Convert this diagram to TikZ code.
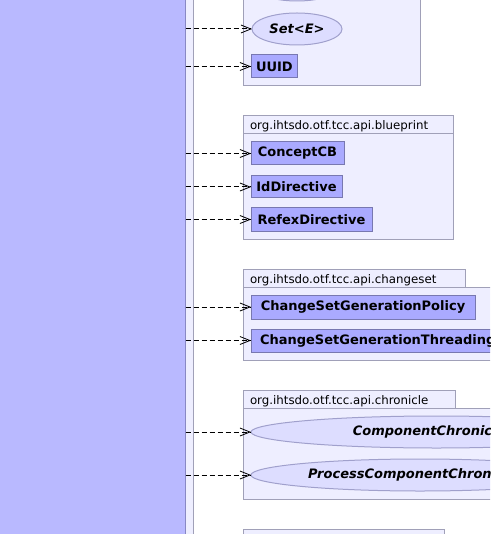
\documentclass[tikz,border=0pt]{standalone}
\usepackage{fontspec}
\setmainfont{DejaVu Sans}
\usetikzlibrary{arrows.meta,shapes.geometric}
\definecolor{colfill}{RGB}{185,185,255}
\definecolor{colline}{RGB}{136,136,196}
\definecolor{stripfill}{RGB}{238,238,255}
\definecolor{pkgfill}{RGB}{238,238,255}
\definecolor{pkgline}{RGB}{160,160,184}
\definecolor{clsfill}{RGB}{170,170,255}
\definecolor{clsline}{RGB}{120,120,176}
\definecolor{ifcfill}{RGB}{221,221,255}
\definecolor{ifcline}{RGB}{160,160,204}

\begin{document}
\begin{tikzpicture}[x=1pt,y=-1pt,
  pkg/.style={draw=pkgline,fill=pkgfill,line width=1pt},
  pkgtab/.style={pkg,anchor=north west,outer sep=0pt,minimum height=18pt,inner xsep=7pt,inner ysep=0pt,align=left,font=\fontsize{11.8}{13}\selectfont,text height=11pt,text depth=1pt},
  cls/.style={draw=clsline,fill=clsfill,line width=1pt,anchor=west,outer sep=0pt,minimum height=23pt,inner xsep=5pt,font=\bfseries\fontsize{13}{15}\selectfont},
  ifc/.style={ellipse,draw=ifcline,fill=ifcfill,line width=1pt,anchor=west,outer sep=0pt,minimum height=32pt,font=\bfseries\itshape\fontsize{13}{15}\selectfont},
  dep/.style={dash pattern=on 5pt off 3pt,line width=1pt,-{Straight Barb[length=10pt,width=8pt,line width=0.8pt]}}]
  % \draw[thin,gray!40] (0,0) grid[step=50] (490,534);
  \clip (0,0) rectangle (490,534);
  % left class, cut by the frame
  \draw[draw=pkgline,fill=stripfill,line width=1pt] (180,-20) rectangle (193,560);
  \node[draw=colline,fill=colfill,line width=1pt,anchor=north east,minimum width=200pt,minimum height=600pt,inner sep=0pt] (api) at (185.5,-20) {};
  % package above, cut by the frame
  \draw[pkg] (243,-20) rectangle (420,86);
  \node[ifc,minimum width=90pt] (topIfc) at (252,-15) {};
  \node[ifc,minimum width=90pt] (setE) at (252,29) {Set<E>};
  \node[cls,minimum width=44pt] (uuid) at (251,66.5) {UUID};
  \draw[dep] (api.east |- setE.west) -- (setE.west);
  \draw[dep] (api.east |- uuid.west) -- (uuid.west);
  % blueprint
  \draw[pkg] (243,134) rectangle (453,239);
  \node[pkgtab,text width=196pt] (bpTab) at (243,116) {org.ihtsdo.otf.tcc.api.blueprint};
  \node[cls,minimum width=93pt] (conceptCB) at (251,153.5) {ConceptCB};
  \node[cls,minimum width=91pt,minimum height=22pt] (idDir) at (251,187) {IdDirective};
  \node[cls,minimum width=121pt] (refexDir) at (251,219.5) {RefexDirective};
  \draw[dep] (api.east |- conceptCB.west) -- (conceptCB.west);
  \draw[dep] (api.east |- idDir.west) -- (idDir.west);
  \draw[dep] (api.east |- refexDir.west) -- (refexDir.west);
  % changeset
  \draw[pkg] (243,287) rectangle (520,360);
  \node[pkgtab,text width=208pt] (csTab) at (243,269) {org.ihtsdo.otf.tcc.api.changeset};
  \node[cls,minimum width=224pt,minimum height=24pt] (csPolicy) at (251,307) {ChangeSetGenerationPolicy};
  \node[cls,inner xsep=9pt] (csThreading) at (251,340.5) {ChangeSetGenerationThreadingPolicy};
  \draw[dep] (api.east |- csPolicy.west) -- (csPolicy.west);
  \draw[dep] (api.east |- csThreading.west) -- (csThreading.west);
  % chronicle
  \draw[pkg] (243,408) rectangle (620,499);
  \node[pkgtab,text width=198pt] (chTab) at (243,390) {org.ihtsdo.otf.tcc.api.chronicle};
  \node[ifc,minimum width=371pt] (compChron) at (251,432) {ComponentChronicleBI};
  \node[ifc,minimum width=338pt] (procChron) at (251,475) {ProcessComponentChronicleBI};
  \draw[dep] (api.east |- compChron.west) -- (compChron.west);
  \draw[dep] (api.east |- procChron.west) -- (procChron.west);
  % package below, cut by the frame
  \draw[pkg] (243,547) rectangle (520,600);
  \node[pkgtab,text width=187pt] (caTab) at (243,529) {org.ihtsdo.otf.tcc.api.conattr};
\end{tikzpicture}
\end{document}
